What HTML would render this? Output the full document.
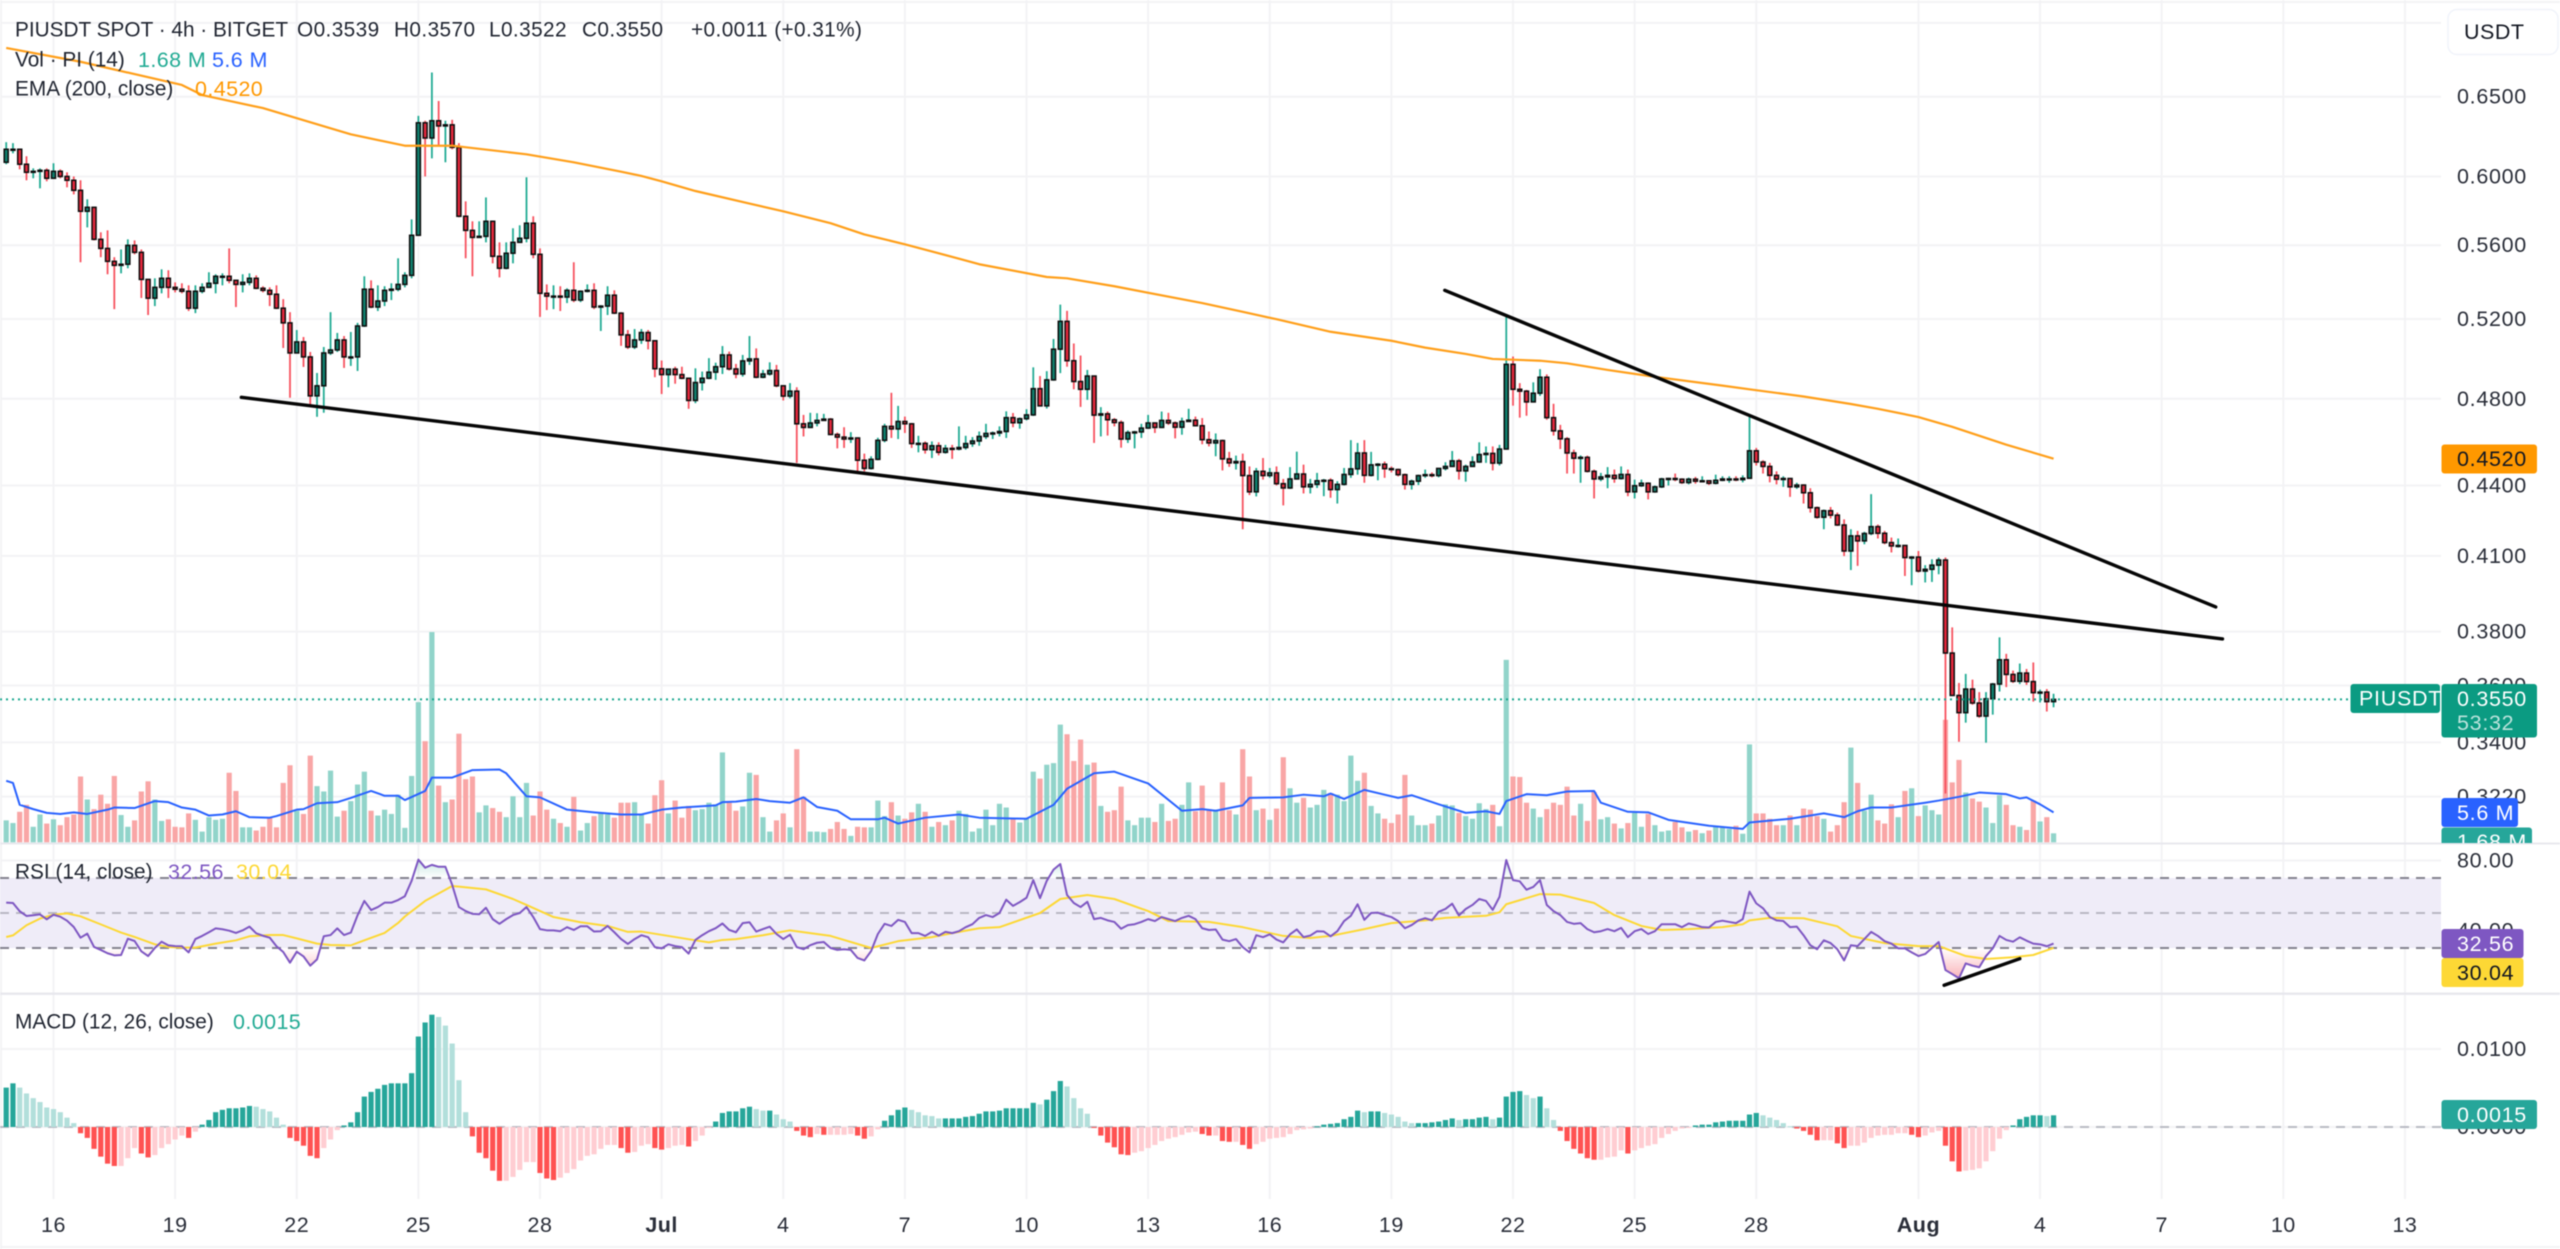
<!DOCTYPE html>
<html lang="en">
<head>
<meta charset="utf-8">
<title>PIUSDT 4h chart</title>
<style>
html,body{margin:0;padding:0;background:#fff;width:2560px;height:1249px;overflow:hidden}
svg{display:block;font-family:"Liberation Sans",Arial,sans-serif;filter:blur(.5px)}
.ax{font-size:21.5px;letter-spacing:.7px;fill:#2a2e39;dominant-baseline:central}
.lg{font-size:20.8px;fill:#1f2430;dominant-baseline:central}
.lv{font-size:21.5px;letter-spacing:.4px;dominant-baseline:central}
.tg{font-size:21.5px;letter-spacing:.7px;dominant-baseline:central}
</style>
</head>
<body>
<svg id="chart" xmlns="http://www.w3.org/2000/svg" width="2560" height="1249" viewBox="0 0 2560 1249">
  <defs>
    <clipPath id="clipMain"><rect x="0" y="0" width="2441" height="843"/></clipPath>
    <clipPath id="clipRsi"><rect x="0" y="844" width="2441" height="149"/></clipPath>
    <clipPath id="clipMacd"><rect x="0" y="995" width="2441" height="204"/></clipPath>
    <clipPath id="clipBelow30"><rect x="0" y="948" width="2441" height="45"/></clipPath>
    <clipPath id="clipAbove70"><rect x="0" y="844" width="2441" height="34"/></clipPath>
    <clipPath id="clipVolTag"><rect x="2441" y="0" width="119" height="843"/></clipPath>
    <linearGradient id="gradOs" gradientUnits="userSpaceOnUse" x1="0" y1="948" x2="0" y2="985">
      <stop offset="0" stop-color="#f23645" stop-opacity="0"/>
      <stop offset="1" stop-color="#f23645" stop-opacity=".45"/>
    </linearGradient>
    <linearGradient id="gradOb" gradientUnits="userSpaceOnUse" x1="0" y1="878" x2="0" y2="845">
      <stop offset="0" stop-color="#089981" stop-opacity="0"/>
      <stop offset="1" stop-color="#089981" stop-opacity=".4"/>
    </linearGradient>
  </defs>
  <rect width="2560" height="1249" fill="#fff"/>
  <rect x="0" y="1" width="2560" height="2" fill="#f3f3f5"/>
  <rect x="0" y="1246" width="2560" height="2" fill="#f3f3f5"/>
  <rect x="0" y="0" width="2" height="1249" fill="#f3f3f5"/>
  <g id="grid"></g>
  <rect x="0" y="878" width="2441" height="70" fill="#efecf8"/>
  <g id="rsiLevels"></g>
  <g id="macdPane" clip-path="url(#clipMacd)"></g>
  <g id="volPane" clip-path="url(#clipMain)"></g>
  <g id="pricePane" clip-path="url(#clipMain)"></g>
  <g id="rsiPane" clip-path="url(#clipRsi)"></g>
  <rect x="0" y="842.5" width="2560" height="2" fill="#e8e8ee"/>
  <rect x="0" y="992.5" width="2560" height="2.4" fill="#e8e8ee"/>
  <g id="axisLabels"></g>

  <g>
    <text class="lg" x="15" y="30">PIUSDT SPOT · 4h · BITGET</text>
    <text class="lg" x="297" y="30" letter-spacing=".4">O0.3539</text>
    <text class="lg" x="394" y="30" letter-spacing=".4">H0.3570</text>
    <text class="lg" x="489" y="30" letter-spacing=".4">L0.3522</text>
    <text class="lg" x="582" y="30" letter-spacing=".4">C0.3550</text>
    <text class="lg" x="691" y="30" letter-spacing=".4">+0.0011 (+0.31%)</text>
    <text class="lg" x="15" y="60">Vol · PI (14)</text>
    <text class="lv" x="138" y="60" fill="#22ab94">1.68 M</text>
    <text class="lv" x="212" y="60" fill="#2962ff">5.6 M</text>
    <text class="lg" x="15" y="89">EMA (200, close)</text>
    <text class="lv" x="195" y="89" fill="#ff9800">0.4520</text>
  </g>
  <g>
    <text class="lg" x="15" y="872">RSI (14, close)</text>
    <text class="lv" x="168" y="872" fill="#7e57c2">32.56</text>
    <text class="lv" x="236" y="872" fill="#fdd835">30.04</text>
  </g>
  <g>
    <text class="lg" x="15" y="1022">MACD (12, 26, close)</text>
    <text class="lv" x="233" y="1022" fill="#22ab94">0.0015</text>
  </g>

  <g>
    <rect x="2448" y="9.5" width="110" height="45" rx="9" fill="#fff" stroke="#f0f3fa" stroke-width="1.5"/>
    <text x="2464" y="32" font-size="21.5" letter-spacing=".5" fill="#131722" dominant-baseline="central">USDT</text>
  </g>

  <g>
    <rect x="2350.5" y="684" width="89.5" height="29" rx="3" fill="#0b9b82"/>
    <text class="tg" x="2359" y="698.5" fill="#fff">PIUSDT</text>
  </g>
  <g>
    <rect x="2441.5" y="684" width="95.5" height="53.5" rx="3" fill="#0b9b82"/>
    <text class="tg" x="2457" y="699" fill="#fff">0.3550</text>
    <text class="tg" x="2457" y="723" fill="#fff" fill-opacity=".72">53:32</text>
  </g>
  <g>
    <rect x="2441.5" y="444.5" width="95.5" height="29" rx="3" fill="#ff9800"/>
    <text class="tg" x="2457" y="459" fill="#131722">0.4520</text>
  </g>
  <g clip-path="url(#clipVolTag)">
    <rect x="2441.5" y="827.5" width="90.5" height="29" rx="3" fill="#26a69a"/>
    <text class="tg" x="2457" y="842" fill="#fff">1.68 M</text>
  </g>
  <g>
    <rect x="2441.5" y="798" width="76.5" height="29" rx="3" fill="#2962ff"/>
    <text class="tg" x="2457" y="813" fill="#fff">5.6 M</text>
  </g>
  <g>
    <rect x="2441.5" y="929" width="82" height="29" rx="3" fill="#7e57c2"/>
    <text class="tg" x="2457" y="944" fill="#fff">32.56</text>
  </g>
  <g>
    <rect x="2441.5" y="958" width="82" height="29" rx="3" fill="#fdd835"/>
    <text class="tg" x="2457" y="973" fill="#131722">30.04</text>
  </g>
  <g>
    <rect x="2441.5" y="1100" width="95.5" height="29" rx="3" fill="#26a69a"/>
    <text class="tg" x="2457" y="1115" fill="#fff">0.0015</text>
  </g>
</svg>
<script>
// ---------- data ----------
const firstOpen = .6086;
const closes = [
.6166,.6166,.6074,.6025,.6031,.6037,.5989,.6031,.6000,.5977,
.5917,.5794,.5817,.5633,.5582,.5510,.5488,.5494,.5599,.5560,
.5411,.5310,.5368,.5417,.5368,.5358,.5347,.5257,.5347,.5368,
.5390,.5428,.5428,.5406,.5384,.5395,.5417,.5363,.5352,.5331,
.5257,.5180,.5026,.5082,.5006,.4814,.4863,.5026,.5041,.5092,
.5006,.5006,.5164,.5358,.5263,.5295,.5352,.5358,.5384,.5433,
.5656,.6332,.6236,.6345,.6312,.6319,.6178,.5765,.5684,.5644,
.5650,.5736,.5538,.5472,.5555,.5616,.5639,.5725,.5549,.5336,
.5321,.5321,.5316,.5352,.5300,.5347,.5352,.5263,.5268,.5326,
.5231,.5118,.5056,.5092,.5130,.5088,.4947,.4918,.4945,.4918,
.4900,.4792,.4879,.4900,.4930,.4957,.5016,.4946,.4921,.4986,
.4996,.4905,.4921,.4938,.4863,.4813,.4837,.4681,.4664,.4685,
.4697,.4703,.4631,.4619,.4610,.4615,.4513,.4476,.4517,.4604,
.4669,.4657,.4692,.4681,.4589,.4590,.4561,.4579,.4549,.4567,
.4564,.4571,.4589,.4601,.4622,.4636,.4638,.4645,.4710,.4686,
.4705,.4723,.4849,.4766,.4892,.5045,.5188,.4987,.4884,.4846,
.4911,.4722,.4728,.4700,.4687,.4610,.4640,.4643,.4661,.4685,
.4664,.4697,.4685,.4665,.4692,.4698,.4672,.4607,.4592,.4603,
.4519,.4501,.4507,.4444,.4372,.4463,.4444,.4456,.4408,.4389,
.4429,.4451,.4394,.4405,.4421,.4423,.4382,.4405,.4449,.4474,
.4546,.4445,.4492,.4495,.4475,.4471,.4448,.4405,.4419,.4444,
.4448,.4444,.4476,.4485,.4510,.4465,.4485,.4505,.4539,.4544,
.4500,.4564,.4969,.4846,.4837,.4785,.4827,.4905,.4710,.4648,
.4611,.4546,.4522,.4526,.4463,.4429,.4438,.4445,.4431,.4449,
.4372,.4399,.4410,.4372,.4394,.4429,.4431,.4428,.4413,.4428,
.4419,.4421,.4410,.4423,.4429,.4429,.4426,.4432,.4556,.4505,
.4485,.4445,.4428,.4431,.4394,.4402,.4368,.4303,.4262,.4290,
.4271,.4229,.4120,.4183,.4162,.4193,.4222,.4194,.4155,.4141,
.4143,.4093,.4095,.4038,.4045,.4062,.4083,.3719,.3564,.3503,
.3587,.3537,.3491,.3552,.3605,.3694,.3640,.3615,.3645,.3614,
.3574,.3576,.3542,.3550];
const highs = [
.6210,.6204,.6166,.6123,.6049,.6049,.6049,.6080,.6043,.6025,
.6000,.5977,.5864,.5817,.5673,.5684,.5533,.5576,.5633,.5627,
.5576,.5411,.5417,.5466,.5461,.5395,.5390,.5379,.5379,.5390,
.5450,.5439,.5444,.5582,.5406,.5439,.5444,.5433,.5374,.5368,
.5379,.5305,.5236,.5143,.5107,.5031,.4926,.5056,.5236,.5128,
.5112,.5133,.5180,.5428,.5406,.5379,.5374,.5390,.5527,.5450,
.5747,.6376,.6345,.6660,.6472,.6345,.6351,.6204,.5852,.5736,
.5736,.5875,.5736,.5616,.5616,.5696,.5713,.5995,.5765,.5582,
.5384,.5379,.5374,.5363,.5505,.5352,.5384,.5390,.5273,.5374,
.5352,.5236,.5143,.5148,.5148,.5143,.5087,.4988,.4947,.4957,
.4957,.4900,.4949,.4933,.5000,.4977,.5061,.5033,.4971,.5016,
.5112,.5049,.4941,.4979,.4966,.4863,.4876,.4856,.4723,.4733,
.4731,.4728,.4708,.4640,.4665,.4642,.4615,.4543,.4531,.4616,
.4681,.4829,.4766,.4715,.4685,.4625,.4599,.4599,.4595,.4583,
.4583,.4669,.4625,.4619,.4645,.4681,.4645,.4669,.4740,.4732,
.4711,.4750,.4954,.4911,.4935,.5097,.5276,.5243,.5074,.5013,
.4941,.4911,.4760,.4739,.4708,.4697,.4650,.4648,.4681,.4723,
.4687,.4739,.4733,.4692,.4710,.4752,.4715,.4708,.4645,.4636,
.4607,.4551,.4534,.4543,.4485,.4478,.4523,.4478,.4485,.4429,
.4482,.4552,.4493,.4429,.4456,.4429,.4432,.4419,.4478,.4605,
.4592,.4605,.4551,.4500,.4507,.4485,.4475,.4453,.4426,.4448,
.4471,.4458,.4478,.4504,.4555,.4519,.4493,.4531,.4595,.4576,
.4576,.4583,.5212,.5008,.4876,.4843,.4880,.4945,.4919,.4776,
.4676,.4619,.4561,.4535,.4534,.4471,.4456,.4482,.4471,.4485,
.4471,.4426,.4426,.4414,.4400,.4434,.4434,.4453,.4432,.4435,
.4438,.4441,.4419,.4448,.4441,.4441,.4441,.4445,.4723,.4569,
.4513,.4501,.4463,.4441,.4429,.4412,.4405,.4388,.4308,.4295,
.4306,.4282,.4253,.4211,.4204,.4200,.4362,.4231,.4204,.4176,
.4172,.4137,.4099,.4120,.4062,.4086,.4093,.4093,.3816,.3609,
.3642,.3621,.3576,.3576,.3609,.3778,.3716,.3654,.3680,.3660,
.3684,.3585,.3587,.3570];
const lows = [
.6074,.6141,.6043,.5977,.5989,.5929,.5971,.5989,.5989,.5935,
.5893,.5505,.5701,.5627,.5533,.5439,.5252,.5444,.5472,.5549,
.5311,.5221,.5268,.5336,.5311,.5341,.5336,.5242,.5231,.5336,
.5368,.5336,.5379,.5390,.5263,.5341,.5379,.5358,.5341,.5268,
.5252,.5051,.4805,.5046,.4956,.4761,.4714,.4733,.5016,.5031,
.4951,.4961,.4936,.5159,.5257,.5242,.5268,.5300,.5347,.5368,
.5417,.5656,.6000,.6110,.6191,.6086,.6166,.5759,.5527,.5428,
.5644,.5616,.5499,.5422,.5466,.5499,.5616,.5616,.5527,.5211,
.5247,.5252,.5242,.5284,.5289,.5289,.5341,.5252,.5138,.5221,
.5226,.5062,.5046,.5046,.5072,.5044,.4905,.4823,.4856,.4873,
.4895,.4752,.4779,.4840,.4895,.4892,.4921,.4938,.4900,.4908,
.4966,.4900,.4900,.4913,.4856,.4792,.4802,.4501,.4622,.4661,
.4669,.4697,.4628,.4567,.4569,.4592,.4460,.4463,.4471,.4513,
.4595,.4615,.4610,.4638,.4569,.4549,.4543,.4523,.4535,.4543,
.4519,.4558,.4561,.4574,.4579,.4610,.4610,.4622,.4615,.4665,
.4658,.4697,.4718,.4763,.4753,.4888,.4925,.4957,.4846,.4761,
.4795,.4592,.4622,.4626,.4669,.4570,.4592,.4567,.4615,.4657,
.4638,.4661,.4676,.4613,.4630,.4692,.4669,.4586,.4576,.4531,
.4467,.4483,.4471,.4211,.4358,.4352,.4426,.4434,.4400,.4313,
.4385,.4426,.4365,.4365,.4389,.4353,.4346,.4321,.4400,.4434,
.4448,.4412,.4440,.4423,.4434,.4458,.4440,.4382,.4382,.4402,
.4434,.4436,.4436,.4467,.4483,.4426,.4417,.4483,.4501,.4501,
.4467,.4489,.4561,.4767,.4710,.4719,.4782,.4814,.4700,.4626,
.4564,.4453,.4453,.4412,.4458,.4343,.4419,.4388,.4412,.4426,
.4353,.4343,.4394,.4339,.4368,.4389,.4400,.4419,.4407,.4405,
.4408,.4414,.4402,.4405,.4419,.4412,.4419,.4414,.4429,.4489,
.4453,.4414,.4405,.4394,.4350,.4385,.4321,.4282,.4256,.4211,
.4257,.4225,.4099,.4042,.4059,.4148,.4186,.4172,.4148,.4114,
.4134,.4018,.3981,.4032,.3992,.3994,.4025,.3230,.3563,.3402,
.3468,.3531,.3485,.3399,.3496,.3578,.3594,.3609,.3605,.3602,
.3542,.3539,.3507,.3522];
const volumes = [
4.1,3.6,5.7,7.0,2.9,5.2,3.5,4.3,3.2,4.7,5.2,12.3,8.0,6.2,8.9,7.2,12.4,5.1,2.9,4.1,
9.5,11.4,8.0,4.0,4.3,2.9,2.8,5.4,4.2,2.0,4.7,4.2,4.4,13.0,9.6,2.8,2.8,2.2,2.9,4.7,
2.8,11.1,14.4,5.9,5.3,16.2,10.5,9.5,13.4,4.8,5.9,7.7,10.8,13.2,5.9,5.0,6.1,5.3,8.9,2.7,
12.4,26.2,18.9,39.3,10.6,7.5,8.0,20.3,11.8,12.3,5.6,6.9,6.4,5.7,4.7,8.6,4.7,11.1,5.0,9.5,
6.1,4.4,3.6,2.9,8.5,2.2,3.6,4.9,5.6,5.2,4.6,7.4,7.4,7.5,
5.1,3.5,8.8,11.6,5.4,7.8,4.6,6.8,6.0,6.2,7.4,7.1,16.8,7.4,5.9,6.7,13.0,12.6,4.7,2.0,
4.1,5.4,2.8,17.4,8.5,2.0,2.0,1.9,2.5,3.8,2.5,1.2,2.9,2.8,2.8,7.8,4.9,7.5,5.0,4.4,
5.6,7.2,5.7,2.9,3.8,3.2,4.1,5.9,5.3,2.0,2.6,6.1,3.2,7.2,6.5,4.4,3.7,4.4,13.2,11.9,
14.5,14.8,22.0,20.2,15.2,19.2,14.5,14.9,6.8,5.7,6.0,10.4,4.1,3.2,4.6,4.6,3.8,7.2,4.0,4.4,
7.0,11.2,5.8,10.6,6.2,6.1,11.2,6.0,5.2,17.4,12.3,6.0,6.3,4.2,6.3,
15.9,10.1,7.4,8.3,6.5,7.0,9.8,9.2,8.9,7.7,16.2,11.5,13.0,6.8,5.4,4.4,3.6,5.2,12.6,5.0,
3.2,3.2,3.5,5.0,7.1,6.9,5.5,4.9,4.4,7.3,6.2,7.0,3.0,34.1,12.3,12.2,7.4,6.3,4.7,6.2,
7.4,7.0,10.4,5.0,7.2,4.0,9.4,4.3,4.7,3.5,2.6,3.6,5.5,2.9,5.3,3.2,2.0,2.2,3.8,2.8,
2.0,2.3,1.7,2.2,3.0,2.8,2.5,3.1,1.6,18.3,5.4,5.4,4.4,3.2,3.2,5.0,3.2,6.3,6.1,4.9,
4.4,2.0,3.2,7.5,17.7,11.1,5.9,8.9,4.1,3.5,7.1,4.7,9.6,10.1,4.9,
6.9,6.0,5.2,22.9,11.2,15.4,9.3,8.2,7.6,6.5,3.6,8.8,7.0,3.2,2.9,2.3,7.8,3.9,4.7,1.68];
const volMaBars = [0,1,2,4,6,8,10,12,15,16,19,22,24,26,28,30,32,34,36,39,40,43,44,46,49,51,54,56,58,59,62,63,66,69,73,74,77,79,83,87,91,
94,97,100,105,106,108,111,113,116,118,120,123,125,129,130,132,136,141,144,151,155,157,161,164,169,174,177,179,183,184,
189,192,195,196,198,201,204,206,208,212,216,219,221,222,225,228,231,235,236,240,243,246,252,257,258,264,269,272,274,276,279,
284,286,289,292,296,298,299,301,303];
const volMaValues = [11.5,11.1,7.0,6.2,5.5,5.3,5.6,5.3,6.1,6.5,6.4,7.7,7.5,6.5,6.1,5.0,5.2,5.8,4.7,4.6,4.9,6.1,6.2,7.3,7.5,8.3,9.6,8.7,8.7,7.9,9.6,12.1,12.1,13.5,13.6,12.9,8.6,8.4,6.1,5.6,5.2,
5.2,6.1,6.5,6.9,7.5,7.6,8.1,7.7,7.4,8.4,6.6,5.9,4.3,4.3,4.6,3.5,4.6,5.2,4.6,4.4,7.0,10.0,12.9,13.2,11.0,5.9,6.2,5.9,6.9,8.3,
8.4,8.9,8.6,9.1,8.1,9.8,8.9,8.3,8.8,7.1,5.5,5.8,5.3,7.7,9.0,8.8,9.5,9.6,7.4,5.7,5.6,4.2,3.1,2.5,3.7,4.4,5.4,4.7,5.8,6.5,6.5,
7.4,7.8,8.5,9.3,9.0,8.2,8.4,7.1,5.6];
const emaBars = [0,11,26,29,38,51,59,66,77,84,91,94,97,102,110,115,122,127,133,141,144,154,157,164,177,183,188,196,205,210,216,220,227,231,237,244,254,258,266,273,277,283,288,296,303];
const emaValues = [.6826,.6732,.6577,.6511,.6426,.6259,.6188,.6188,.6135,.6086,.6029,.6003,.5971,.5913,.5839,.5794,.5725,.5661,.5605,.5525,.5494,.5424,.5417,.5374,.5284,.5238,.5199,.5134,.5088,.5053,.5021,.4996,.4987,.4974,.4941,.4907,.4864,.4846,.4811,.4775,.4752,.4713,.4667,.4584,.4520];
const rsiValues = [
55.9,55.7,51.0,48.3,48.7,49.2,46.4,49.0,47.9,45.6,42.0,35.9,38.2,30.6,28.9,27.0,25.8,26.0,35.3,34.0,
28.1,25.4,30.0,33.6,31.5,31.1,31.0,27.5,35.1,36.9,39.0,41.2,40.7,39.9,38.6,40.1,42.2,38.4,37.0,35.9,
31.0,27.7,21.6,27.9,25.2,19.9,23.5,36.7,37.4,41.2,37.4,38.8,48.7,56.9,51.7,53.4,55.9,55.9,57.4,
59.6,68.4,80.5,75.9,77.5,76.4,76.4,66.1,53.4,51.1,49.5,49.3,53.0,46.5,43.8,46.5,48.8,50.0,53.4,47.7,
40.8,40.1,40.1,39.6,41.9,40.3,42.4,42.4,39.4,39.6,42.6,39.0,35.1,32.3,35.1,
37.3,36.2,30.5,29.8,32.1,31.1,30.5,26.8,34.6,37.3,39.6,41.3,44.0,40.3,39.0,44.2,44.7,39.4,40.8,42.2,
38.0,35.1,37.6,30.5,29.3,31.6,33.0,33.4,30.0,28.9,29.3,28.9,24.3,22.9,28.2,38.0,43.8,42.6,46.1,44.9,
38.5,38.5,36.9,39.2,37.1,39.2,38.5,39.6,41.9,43.6,47.2,48.8,47.7,50.0,57.6,54.1,56.2,58.7,68.8,58.5,
68.4,74.8,78.0,60.3,55.7,53.4,56.4,46.5,47.2,45.8,44.9,41.0,43.1,43.6,44.9,46.5,45.4,47.7,46.5,45.4,
47.2,48.4,46.5,41.3,40.3,40.6,34.8,33.9,35.1,30.5,27.5,37.3,36.2,37.8,34.8,
33.2,37.8,40.6,36.2,37.1,39.6,39.4,36.7,39.6,45.4,48.4,55.0,46.1,50.0,50.2,48.8,47.7,45.4,41.3,43.1,
45.8,47.0,45.8,50.7,52.3,55.3,48.6,52.3,54.6,58.0,56.9,51.8,59.2,80.3,68.8,68.1,63.3,64.9,68.8,54.6,
51.1,48.8,44.9,43.8,44.2,40.8,39.0,39.6,40.8,39.6,41.5,36.2,39.6,40.8,38.0,39.6,43.6,43.6,43.6,41.9,
44.0,43.1,41.9,41.7,44.9,45.6,44.9,44.2,46.5,62.2,55.5,52.7,47.7,45.8,45.4,41.9,42.2,37.3,31.6,29.3,
34.4,32.8,29.3,22.9,31.6,31.1,35.1,39.2,36.9,33.9,32.5,29.8,29.8,27.5,25.4,
26.6,30.0,33.4,17.4,15.1,12.7,21.2,19.9,19.0,25.4,29.8,36.9,34.6,33.6,36.1,34.2,32.5,32.1,31.0,32.56];
const rsiMaBars = [0,1,3,5,7,9,11,14,17,19,22,24,26,28,31,34,36,39,41,43,46,48,51,53,56,58,59,62,66,67,71,75,77,81,85,89,92,94,
102,104,106,108,112,116,122,128,132,137,140,144,147,153,156,160,164,169,172,178,183,189,193,196,201,205,210,213,219,221,222,227,230,235,238,242,245,249,254,257,258,261,266,271,273,278,283,286,290,293,297,300,303];
const rsiMaValues = [36.3,37.2,43.0,46.8,49.0,49.8,48.1,43.5,38.8,36.3,32.1,30.6,30.2,30.2,32.5,34.4,36.7,37.4,37.4,35.5,32.5,31.7,31.5,34.4,38.6,44.3,48.0,56.9,65.4,65.1,63.5,58.0,54.6,47.7,44.7,42.6,39.2,39.4,
34.4,33.2,34.6,35.1,37.3,40.1,36.9,30.0,33.9,36.2,38.5,41.3,41.9,50.0,58.0,60.3,58.0,51.1,45.4,44.9,41.9,36.9,35.7,36.9,40.8,44.2,45.8,47.2,48.4,50.4,55.0,60.8,60.5,55.7,48.8,42.6,40.3,40.8,41.9,43.6,45.8,47.2,47.0,42.4,36.9,32.8,31.1,31.1,25.4,23.7,24.7,26.0,30.04];
// MACD histogram, in units of 0.0001
const macdHist = [
50.5,56,50.5,43,37,32,25,23,19,12,5,-8,-14,-28,-38,-47,-50,-50,-40,-27,
-34,-39,-36,-27,-22,-16,-11,-14,-6,3,9,19,22,24,24,25,27,26,23,20,
12,3,-14,-18,-24,-37,-40,-27,-16,-4,2,6,19,39,45,49,54,56,56,56,
69,116,134,144,141,130,107,60,19,-12,-33,-40,-56,-69,-69,-64,-55,-45,-45,-59,
-66,-68,-65,-59,-54,-43,-37,-35,-28,-23,-23,-27,-33,-32,
-24,-22,-27,-29,-27,-24,-23,-25,-18,-11,-1,7,18,20,20,24,26,23,21,21,
16,10,7,-5,-11,-13,-9,-10,-10,-10,-10,-9,-11,-15,-12,-3,8,15,22,25,
22,19,15,14,11,11,11,11,13,14,17,20,20,21,24,24,24,24,31,29,
35,46,59,52,37,24,17,-1,-11,-20,-26,-35,-36,-33,-31,-27,-23,-18,-15,-13,
-10,-7,-6,-9,-11,-11,-18,-19,-19,-23,-28,-22,-19,-15,-14,
-13,-9,-4,-3,-2,1,3,4,5,10,13,21,19,20,20,18,16,13,7,5,
5,5,6,7,9,11,9,10,10,12,13,10,12,39,45,46,41,37,39,24,
9,-5,-18,-28,-34,-40,-42,-42,-39,-38,-30,-34,-30,-27,-24,-22,-14,-9,-5,-2,
-1,2,3,3,6,7,8,8,8,16,18,15,12,9,5,1,-2,-5,-10,-17,
-17,-17,-21,-27,-24,-24,-20,-14,-11,-10,-10,-8,-8,-10,-13,
-11,-7,-5,-24,-44,-57,-56,-55,-53,-44,-31,-15,-4,2,10,13,15,15,14,15];
const priceTicks = [.7,.65,.6,.56,.52,.48,.44,.41,.38,.36,.34,.322];
const priceTickLabels = ["", "0.6500","0.6000","0.5600","0.5200","0.4800","0.4400","0.4100","0.3800","0.3600","0.3400","0.3220"];
const rsiTicks = [80,40];
const rsiTickLabels = ["80.00","40.00"];
const rsiLevels = [70,50,30];
const macdTicks = [0.01,0];
const macdTickLabels = ["0.0100","0.0000"];
const timeTickBars = [7,25,43,61,79,97,115,133,151,169,187,205,223,241,259,283,301,319,337,355];
const timeTickLabels = ["16","19","22","25","28","Jul","4","7","10","13","16","19","22","25","28","Aug","4","7","10","13"];
const lastPrice = .3550;
// drawn trend lines: [bar, price, bar, price]
const lowerTrend = [34.8,.4807,328,.3772];
const upperTrend = [212.9,.5352,327,.3895];
// drawn on RSI: [bar, rsi, bar, rsi]
const rsiTrend = [286.8,8.7,298,23.9];

// ---------- axis functions ----------
const xAt = i => 53.5 + (i - 7) * 6.757;
const yPrice = p => 96.7 + 996.4 * Math.log(.65 / p);
const yVol = v => 842.3 - v * 5.35;
const yRsi = r => 948 - (r - 30) * 1.75;
const yMacd = m => 1127 - m * .78;
const yMacdRaw = m => 1127 - m * 7800;

const NS = "http://www.w3.org/2000/svg";
const make = (tag, parent, geo) => {
  const el = document.createElementNS(NS, tag);
  for (const k in geo) el.setAttribute(k, geo[k]);
  parent.appendChild(el);
  return el;
};
const gridG = document.getElementById("grid");
const levG = document.getElementById("rsiLevels");
const volG = document.getElementById("volPane");
const priceG = document.getElementById("pricePane");
const rsiG = document.getElementById("rsiPane");
const macdG = document.getElementById("macdPane");
const axisG = document.getElementById("axisLabels");
const GRID = "#f3f3f5";

// ---------- grid + axis labels ----------
timeTickBars.forEach((b, k) => {
  const line = make("line", gridG, {x1: xAt(b), x2: xAt(b), y1: 0, y2: 1199, stroke: GRID, "stroke-width": 2});
  
  
  const t = make("text", axisG, {x: xAt(b), y: 1225, "text-anchor": "middle", "font-size": 21.5, "letter-spacing": .5, fill: "#2a2e39", "dominant-baseline": "central"});
  
  
  if (isNaN(timeTickLabels[k])) t.setAttribute("font-weight", "700");
  t.textContent = timeTickLabels[k];
});
priceTicks.forEach((p, k) => {
  const line = make("line", gridG, {x1: 0, x2: 2441, y1: yPrice(p), y2: yPrice(p), stroke: GRID, "stroke-width": 2});
  
  
  if (priceTickLabels[k]) {
    const t = make("text", axisG, {x: 2457, y: yPrice(p), class: "ax"});
    
    
    t.textContent = priceTickLabels[k];
  }
});
rsiTicks.forEach((r, k) => {
  const line = make("line", gridG, {x1: 0, x2: 2441, y1: yRsi(r), y2: yRsi(r), stroke: GRID, "stroke-width": 2});
  
  
  const t = make("text", axisG, {x: 2457, y: yRsi(r), class: "ax"});
  
  
  t.textContent = rsiTickLabels[k];
});
macdTicks.forEach((m, k) => {
  const line = make("line", gridG, {x1: 0, x2: 2441, y1: yMacdRaw(m), y2: yMacdRaw(m), stroke: GRID, "stroke-width": 2});
  
  
  const t = make("text", axisG, {x: 2457, y: yMacdRaw(m), class: "ax"});
  
  
  t.textContent = macdTickLabels[k];
});
rsiLevels.forEach(r => {
  const line = make("line", levG, {x1: 0, x2: 2441, y1: yRsi(r), y2: yRsi(r), stroke: r === 50 ? "#b9b8c4" : "#84838f", "stroke-width": 2, "stroke-dasharray": "9 7"});
  
  
});

// ---------- MACD histogram ----------
const macdZero = make("line", macdG, {x1: 0, x2: 2441, y1: yMacd(0), y2: yMacd(0), stroke: "#b9bbc4", "stroke-width": 2, "stroke-dasharray": "9 7"});


macdHist.forEach((v, i) => {
  const prev = i ? macdHist[i - 1] : v - 1;
  const fill = v >= 0 ? (v >= prev ? "#26a69a" : "#b2dfdb") : (v < prev ? "#ff5252" : "#ffcdd2");
  const top = Math.min(yMacd(v), yMacd(0));
  const bar = make("rect", macdG, {x: xAt(i) - 2.6, y: top, width: 5.2, height: Math.max(1, Math.abs(yMacd(v) - yMacd(0))), fill});
  
  
});

// ---------- volume ----------
closes.forEach((c, i) => {
  const o = i ? closes[i - 1] : firstOpen;
  const bar = make("rect", volG, {x: xAt(i) - 2.6, y: yVol(volumes[i]), width: 5.2, height: volumes[i] * 5.35, fill: c >= o ? "#91d4ca" : "#f9a6a6"});
  
  
});
const volLine = make("polyline", volG, {points: volMaBars.map((b, k) => xAt(b) + "," + yVol(volMaValues[k])).join(" "), fill: "none", stroke: "#2962ff", "stroke-width": 2, "stroke-linejoin": "round"});



// ---------- candles ----------
closes.forEach((c, i) => {
  const o = i ? closes[i - 1] : firstOpen;
  const up = c >= o;
  const x = xAt(i);
  const wick = make("line", priceG, {x1: x, x2: x, y1: yPrice(highs[i]), y2: yPrice(lows[i]), stroke: up ? "#22ab94" : "#f7525f", "stroke-width": 1.8});
  
  
  const top = Math.min(yPrice(o), yPrice(c));
  const body = make("rect", priceG, {x: x - 2, y: top, width: 4, height: Math.max(1, Math.abs(yPrice(o) - yPrice(c))), fill: up ? "#0f7f6d" : "#e5283c", stroke: "#0c0c0c", "stroke-width": 1.5});
  
  
});

// ---------- EMA, last price, trend lines ----------
const emaLine = make("polyline", priceG, {points: emaBars.map((b, k) => xAt(b) + "," + yPrice(emaValues[k])).join(" "), fill: "none", stroke: "#ff9f1a", "stroke-width": 2.2, "stroke-linejoin": "round"});


const priceLine = make("line", priceG, {x1: 0, x2: 2350, y1: yPrice(lastPrice), y2: yPrice(lastPrice), stroke: "#16a68d", "stroke-width": 2, "stroke-dasharray": "2 4"});


const lowerLine = make("line", priceG, {x1: xAt(lowerTrend[0]), y1: yPrice(lowerTrend[1]), x2: xAt(lowerTrend[2]), y2: yPrice(lowerTrend[3]), stroke: "#050505", "stroke-width": 3.4, "stroke-linecap": "round"});


const upperLine = make("line", priceG, {x1: xAt(upperTrend[0]), y1: yPrice(upperTrend[1]), x2: xAt(upperTrend[2]), y2: yPrice(upperTrend[3]), stroke: "#050505", "stroke-width": 3.4, "stroke-linecap": "round"});



// ---------- RSI ----------
const rsiPts = rsiValues.map((r, i) => xAt(i) + "," + yRsi(r));
const rsiPath = "L" + rsiPts.join(" L");
const last = rsiValues.length - 1;
const osArea = make("path", rsiG, {d: "M" + xAt(0) + "," + yRsi(30) + " " + rsiPath + " L" + xAt(last) + "," + yRsi(30) + " Z", fill: "url(#gradOs)", "clip-path": "url(#clipBelow30)"});


const obArea = make("path", rsiG, {d: "M" + xAt(0) + "," + yRsi(70) + " " + rsiPath + " L" + xAt(last) + "," + yRsi(70) + " Z", fill: "url(#gradOb)", "clip-path": "url(#clipAbove70)"});


const rsiMaLine = make("polyline", rsiG, {points: rsiMaBars.map((b, k) => xAt(b) + "," + yRsi(rsiMaValues[k])).join(" "), fill: "none", stroke: "#fdd835", "stroke-width": 2, "stroke-linejoin": "round"});


const rsiLine = make("polyline", rsiG, {points: rsiPts.join(" "), fill: "none", stroke: "#7e57c2", "stroke-width": 2, "stroke-linejoin": "round"});


const rsiTrendLine = make("line", rsiG, {x1: xAt(rsiTrend[0]), y1: yRsi(rsiTrend[1]), x2: xAt(rsiTrend[2]), y2: yRsi(rsiTrend[3]), stroke: "#050505", "stroke-width": 3.4, "stroke-linecap": "round"});


</script>
</body>
</html>
